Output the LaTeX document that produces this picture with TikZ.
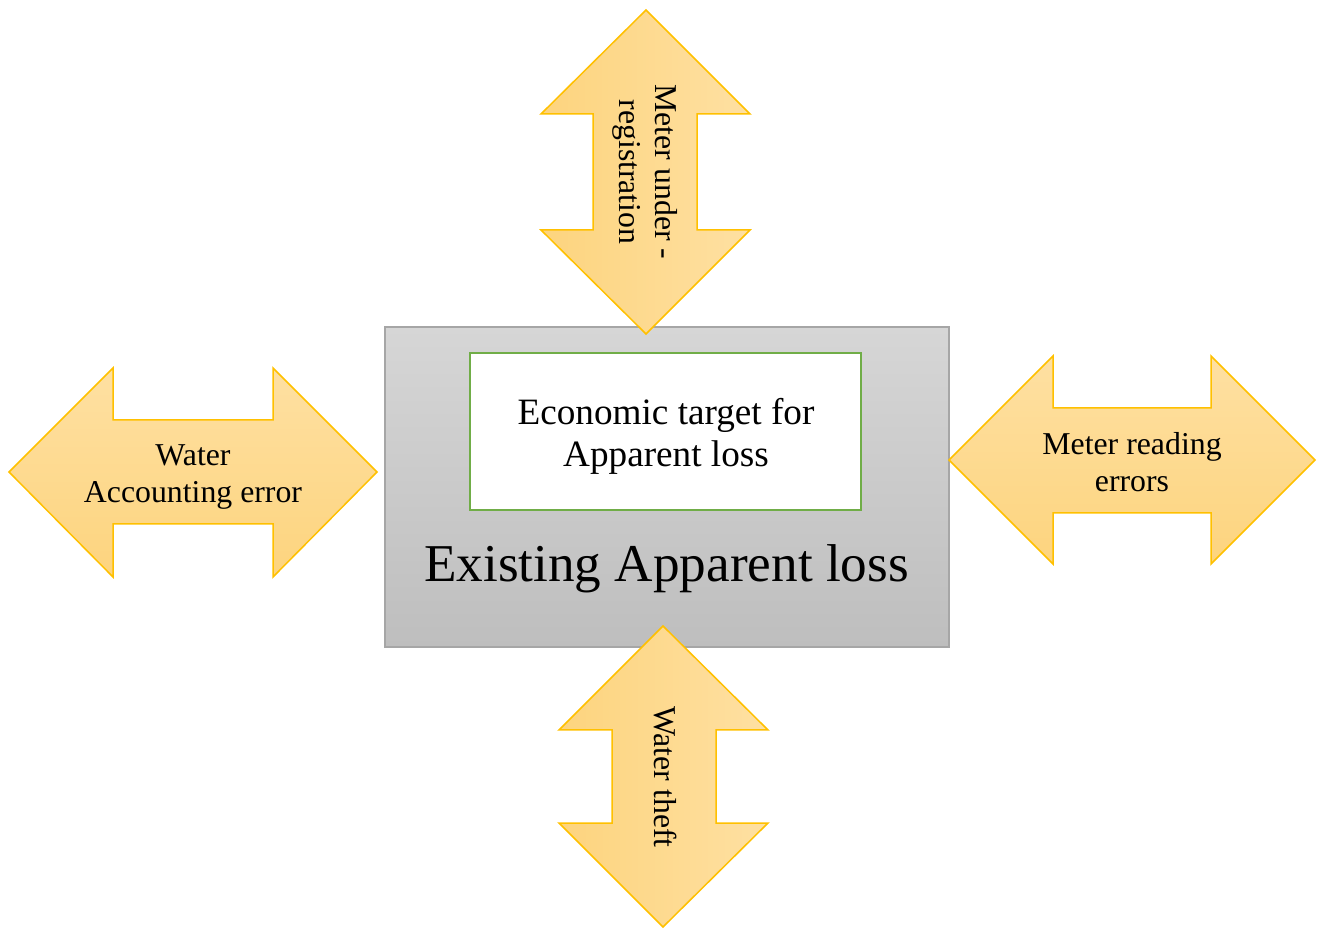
\documentclass[tikz,border=0pt]{standalone}
\usepackage{fontspec}
\setmainfont{Liberation Serif}

\definecolor{goldline}{RGB}{255,192,0}
\definecolor{goldlight}{RGB}{254,224,162}
\definecolor{golddark}{RGB}{253,212,126}
\definecolor{boxlight}{RGB}{214,214,214}
\definecolor{boxdark}{RGB}{190,190,190}
\definecolor{boxline}{RGB}{166,166,166}
\definecolor{targetline}{RGB}{112,173,71}

\begin{document}
\begin{tikzpicture}[
    x=0.5pt, y=-0.5pt,
    loss box/.style={rectangle, draw=boxline, line width=0.75pt, top color=boxlight, bottom color=boxdark, minimum width=282pt, minimum height=160pt, inner sep=0pt},
    target box/.style={rectangle, draw=targetline, line width=1.2pt, fill=white, minimum width=195.5pt, minimum height=78.5pt, inner sep=0pt},
    target label/.style={align=center, inner sep=0pt, font=\fontsize{18.6pt}{21pt}\selectfont},
    big label/.style={inner sep=0pt, font=\fontsize{26.6pt}{30pt}\selectfont},
    h arrow/.style={draw=goldline, line width=0.75pt, top color=goldlight, bottom color=golddark},
    v arrow/.style={draw=goldline, line width=0.75pt, left color=golddark, right color=goldlight},
    arrow label/.style={align=center, inner sep=0pt, font=\fontsize{15.9pt}{18.2pt}\selectfont}
]
\useasboundingbox (0,0) rectangle (1317,929);

% 中心: 现有表观损失 + 经济目标
\node[loss box] (loss) at (667,487) {};
\node[target box] (target) at (665.5,431.5) {};
\node[target label] (targettext) at (666,436) {Economic target for\\Apparent loss};
\node[big label] (existing) at (666.5,569) {Existing Apparent loss};

% 上: 双向箭头 (竖直)
\draw[v arrow] (646,10) -- (750,114) -- (697,114) -- (697,230) -- (750,230) -- (646,334)
    -- (541,230) -- (593,230) -- (593,114) -- (541,114) -- cycle;
\node[arrow label, rotate=-90] (under) at (645,172) {Meter under -\\registration};

% 左: 双向箭头 (水平)
\draw[h arrow] (9,472) -- (113,368) -- (113,420) -- (273,420) -- (273,368) -- (377,472)
    -- (273,577) -- (273,524) -- (113,524) -- (113,577) -- cycle;
\node[arrow label] (account) at (193,477) {Water\\Accounting error};

% 右: 双向箭头 (水平)
\draw[h arrow] (949,460) -- (1053,356) -- (1053,408) -- (1211,408) -- (1211,356) -- (1315,460)
    -- (1211,564) -- (1211,513) -- (1053,513) -- (1053,564) -- cycle;
\node[arrow label] (reading) at (1132,462) {Meter reading\\errors};

% 下: 双向箭头 (竖直)
\draw[v arrow] (663,626) -- (768,730) -- (716,730) -- (716,823) -- (768,823) -- (663,927)
    -- (559,823) -- (612,823) -- (612,730) -- (559,730) -- cycle;
\node[arrow label, rotate=-90] (theft) at (665,777) {Water theft};

\end{tikzpicture}
\end{document}
